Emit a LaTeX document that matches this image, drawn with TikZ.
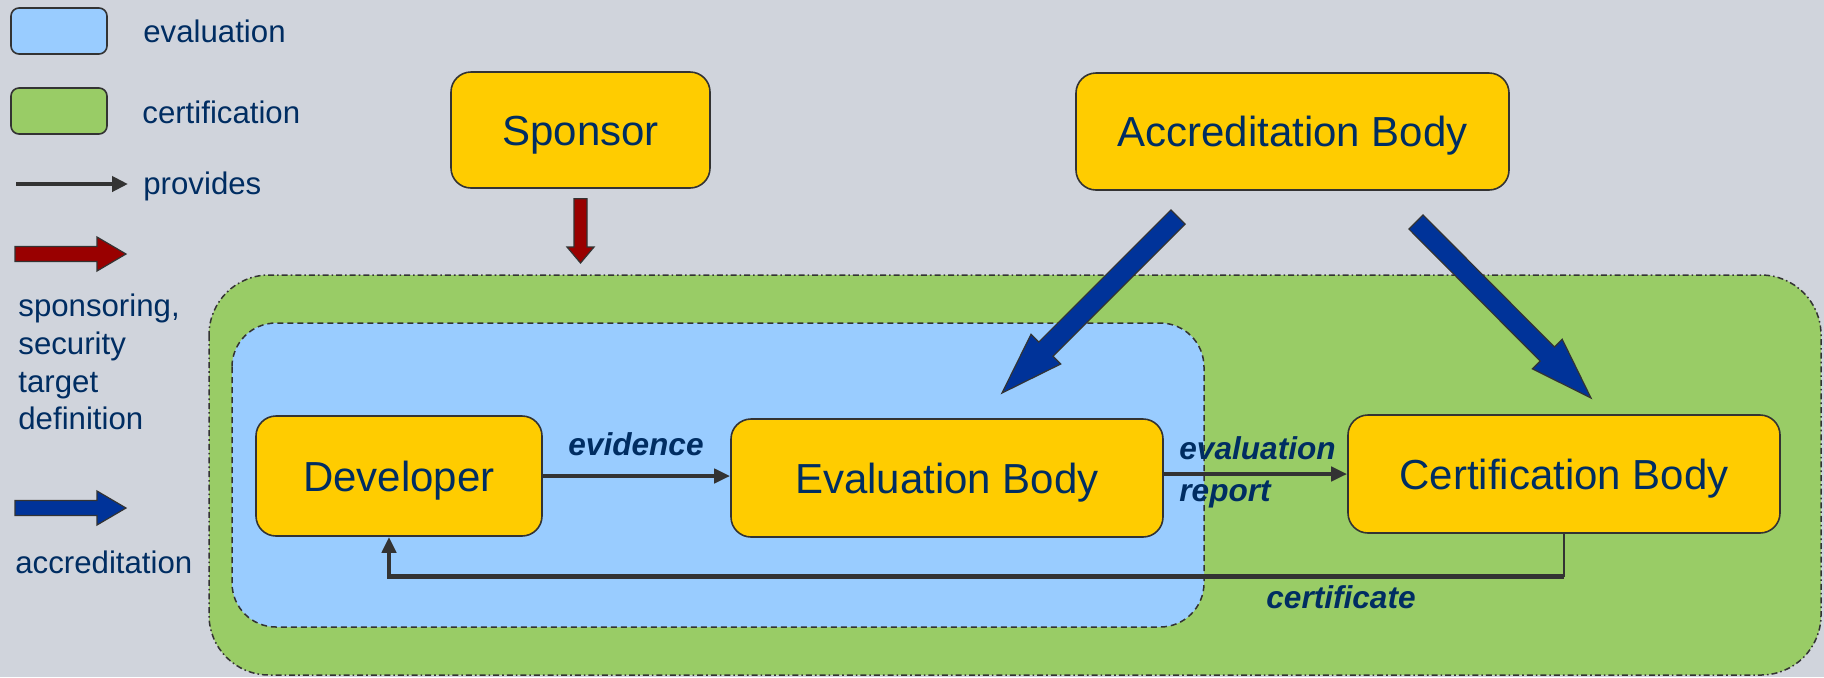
\documentclass[tikz,border=0pt]{standalone}
\usepackage{fontspec}
\setmainfont{Liberation Sans}
\usetikzlibrary{calc,arrows.meta}

\definecolor{bggray}{RGB}{208,212,220}
\definecolor{evalblue}{RGB}{153,204,255}
\definecolor{certgreen}{RGB}{153,204,102}
\definecolor{boxyellow}{RGB}{255,204,0}
\definecolor{navytext}{RGB}{0,45,98}
\definecolor{linegray}{RGB}{51,51,51}
\definecolor{accblue}{RGB}{0,51,153}
\definecolor{sponsred}{RGB}{153,0,0}

% block arrow: fill, half shaft, half head, head length, from, to
\newcommand{\blockarrow}[6]{%
  \draw[fill=#1,draw=linegray,line width=0.6pt,line join=miter]
    let \p1=($(#6)!#4!(#5)$) in
    ($(#5)!#2!90:(#6)$) -- ($(\p1)!#2!90:(#6)$) -- ($(\p1)!#3!90:(#6)$) -- (#6)
    -- ($(\p1)!#3!-90:(#6)$) -- ($(\p1)!#2!-90:(#6)$) -- ($(#5)!#2!-90:(#6)$) -- cycle;
}

\begin{document}
\begin{tikzpicture}[x=0.5pt,y=-0.5pt,
    box/.style={draw=linegray,line width=0.8pt,fill=boxyellow,rounded corners=10pt,
      font=\fontsize{21}{25}\selectfont,text=navytext,inner sep=0pt,
      text height=15pt,text depth=0pt},
    legendtext/.style={font=\fontsize{15.6}{18.9}\selectfont,text=navytext,anchor=west,inner sep=0pt},
    flowlabel/.style={font=\fontsize{15.8}{19}\selectfont\bfseries\itshape,text=navytext,inner sep=0pt},
    provides/.style={draw=linegray,line width=2.4pt,-{Triangle[length=8pt,width=7pt]}},
    swatch/.style={draw=linegray,line width=0.8pt,rounded corners=4pt},
    certarea/.style={fill=certgreen,draw=linegray,line width=0.75pt,rounded corners=30pt,
      dash pattern=on 3pt off 1.5pt on 0.8pt off 1.5pt},
    evalarea/.style={fill=evalblue,draw=linegray,line width=0.75pt,rounded corners=22pt,
      dash pattern=on 3pt off 2pt}]
\useasboundingbox (0,0) rectangle (1824,677);
\fill[bggray] (0,0) rectangle (1824,677);

% certification and evaluation areas
\draw[certarea] (209,275) rectangle (1821,675);
\draw[evalarea] (232,323) rectangle (1204,627);

% legend
\draw[swatch,fill=evalblue] (11,8) rectangle (107,54);
\node[legendtext] (lgeval) at (143,31) {evaluation};
\draw[swatch,fill=certgreen] (11,88) rectangle (107,134);
\node[legendtext] (lgcert) at (142,112) {certification};
\coordinate (lgprovA) at (16,184);
\coordinate (lgprovB) at (128,184);
\draw[provides,line width=2.2pt,-{Triangle[length=8pt,width=7.5pt]}] (lgprovA) -- (lgprovB);
\node[legendtext] (lgprov) at (143,186) {provides};
\coordinate (lgsponsA) at (15,254);
\coordinate (lgsponsB) at (126,254);
\blockarrow{sponsred}{3.75pt}{8.5pt}{14.5pt}{lgsponsA}{lgsponsB}
\node[legendtext,align=left] (lgspons) at (18,362) {sponsoring,\\security\\target\\definition};
\coordinate (lgaccA) at (15,508);
\coordinate (lgaccB) at (126,508);
\blockarrow{accblue}{3.75pt}{8.5pt}{14.5pt}{lgaccA}{lgaccB}
\node[legendtext] (lgacc) at (15,562) {accreditation};

% bodies
\node[box,minimum width=129.5pt,minimum height=58pt] (sponsor) at (580.5,130) {Sponsor};
\node[box,minimum width=216.5pt,minimum height=58.5pt] (accbody) at (1292.5,131.5) {Accreditation Body};
\node[box,minimum width=143pt,minimum height=60pt] (developer) at (399,476) {Developer};
\node[box,minimum width=216pt,minimum height=59pt] (evalbody) at (947,478) {Evaluation Body};
\node[box,minimum width=216pt,minimum height=59pt] (certbody) at (1564,474) {Certification Body};

% provides
\draw[provides] (developer.east) -- (developer.east -| evalbody.west);
\node[flowlabel] (evidence) at (636,444) {evidence};
\draw[provides] (evalbody.east |- certbody) -- (certbody.west);
\node[flowlabel,anchor=west] (evalrep1) at (1179,448) {evaluation};
\node[flowlabel,anchor=west] (evalrep2) at (1179,494) {report};
\coordinate (certturn) at ($(certbody.south)+(0,43)$);
\draw[draw=linegray,line width=0.8pt] (certbody.south) -- (certturn);
\draw[provides] (certturn) -| ([xshift=-5pt]developer.south);
\node[flowlabel] (certificate) at (1341,597) {certificate};

% sponsoring and accreditation
\coordinate (spontail) at ($(sponsor.south)+(0,10)$);
\coordinate (spontip) at (580.5,263);
\blockarrow{sponsred}{3.25pt}{6.75pt}{8pt}{spontail}{spontip}
\coordinate (acctailA) at (1178,217);
\coordinate (acctipA) at (1002,393);
\blockarrow{accblue}{5pt}{10.5pt}{31pt}{acctailA}{acctipA}
\coordinate (acctailB) at (1416,222);
\coordinate (acctipB) at (1591,398);
\blockarrow{accblue}{5pt}{10.5pt}{31pt}{acctailB}{acctipB}
\end{tikzpicture}
\end{document}
